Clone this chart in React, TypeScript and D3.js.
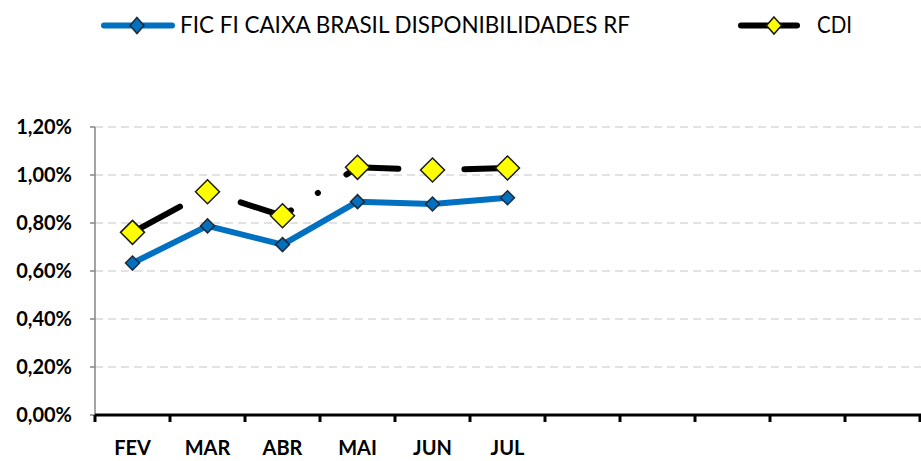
import * as d3 from "d3";

const categories = ["FEV", "MAR", "ABR", "MAI", "JUN", "JUL", "", "", "", "", ""];
const fundValues = [0.633, 0.788, 0.71, 0.889, 0.879, 0.905];
const cdiValues = [0.761, 0.93, 0.83, 1.032, 1.021, 1.029];
const yTicks = [0, 0.2, 0.4, 0.6, 0.8, 1.0, 1.2];
const fundName = "FIC FI CAIXA BRASIL DISPONIBILIDADES RF";
const cdiName = "CDI";

const width = 921;
const height = 461;
const marginLeft = 95;
const marginRight = 1;
const marginTop = 127;
const marginBottom = 46;

const font = "Lato, 'Open Sans', sans-serif";

function diamond(cx: number, cy: number, r: number, ry = r) {
  return `M${cx},${cy - ry}L${cx + r},${cy}L${cx},${cy + ry}L${cx - r},${cy}Z`;
}

export default function App() {
  const x = d3.scaleBand<number>()
    .domain(categories.map((_, i) => i))
    .range([marginLeft, width - marginRight]);

  const y = d3.scaleLinear()
    .domain([0, 1.2])
    .range([height - marginBottom, marginTop]);

  const cx = (i: number) => (x(i) ?? 0) + x.bandwidth() / 2;

  const line = d3.line<number>()
    .x((_, i) => cx(i))
    .y((d) => y(d));

  const fmt = (v: number) => v.toFixed(2).replace(".", ",") + "%";
  const y0 = y(0);
  const legendY = 25.5;

  return (
    <div style={{ position: "absolute", left: 0, top: 0 }}>
      <svg width={width} height={height} style={{ display: "block", background: "#fff" }}>
        {/* grid */}
        {yTicks.filter((t) => t > 0).map((t) => (
          <line key={t} x1={marginLeft} x2={width} y1={y(t)} y2={y(t)}
            stroke="#d9d9d9" strokeWidth={1.5} strokeDasharray="8 5" />
        ))}

        {/* y axis */}
        <line x1={marginLeft} x2={marginLeft} y1={y(1.2)} y2={y0} stroke="#868686" strokeWidth={1.5} />
        {yTicks.map((t) => (
          <g key={t}>
            <line x1={marginLeft - 5} x2={marginLeft} y1={y(t)} y2={y(t)} stroke="#868686" strokeWidth={1.5} />
            <text x={72} y={y(t)} dy="0.36em" textAnchor="end" fontFamily={font}
              fontWeight="bold" fontSize={20} fill="#000">{fmt(t)}</text>
          </g>
        ))}

        {/* x axis */}
        <line x1={marginLeft} x2={width} y1={y0} y2={y0} stroke="#000" strokeWidth={3} />
        {categories.map((_, i) => (
          <line key={i} x1={x(i)} x2={x(i)} y1={y0} y2={y0 + 7} stroke="#000" strokeWidth={3} />
        ))}
        <line x1={width - 1} x2={width - 1} y1={y0} y2={y0 + 7} stroke="#000" strokeWidth={3} />
        {categories.map((c, i) => (
          <text key={i} x={cx(i)} y={455} textAnchor="middle" fontFamily={font}
            fontWeight="bold" fontSize={20} fill="#000">{c}</text>
        ))}

        {/* CDI line */}
        <path d={line(cdiValues) ?? ""} fill="none" stroke="#000" strokeWidth={6}
          strokeLinecap="round" strokeLinejoin="round" strokeDasharray="54 32 0.1 34" />

        {/* fund line */}
        <path d={line(fundValues) ?? ""} fill="none" stroke="#0070c0" strokeWidth={6}
          strokeLinejoin="round" />

        {fundValues.map((v, i) => (
          <path key={i} d={diamond(cx(i), y(v), 7)} fill="#0070c0" stroke="#1f2a3a" strokeWidth={1.5} />
        ))}
        {cdiValues.map((v, i) => (
          <path key={i} d={diamond(cx(i), y(v), 12)} fill="#ffff00" stroke="#1a1a1a" strokeWidth={1.5} />
        ))}

        {/* legend */}
        <line x1={104} x2={172} y1={legendY} y2={legendY} stroke="#0070c0" strokeWidth={6} strokeLinecap="round" />
        <path d={diamond(137, legendY, 7, 8)} fill="#0070c0" stroke="#1f2a3a" strokeWidth={1.5} />
        <text x={180} y={legendY + 7.5} fontFamily={font} fontSize={23} fill="#000"
          textLength={450} lengthAdjust="spacingAndGlyphs">{fundName}</text>

        <line x1={741} x2={797} y1={legendY} y2={legendY} stroke="#000" strokeWidth={6} strokeLinecap="round" />
        <path d={diamond(774, legendY, 7.5, 8.5)} fill="#ffff00" stroke="#1a1a1a" strokeWidth={1.5} />
        <text x={817} y={legendY + 7.5} fontFamily={font} fontSize={23} fill="#000"
          textLength={35} lengthAdjust="spacingAndGlyphs">{cdiName}</text>
      </svg>
    </div>
  );
}
